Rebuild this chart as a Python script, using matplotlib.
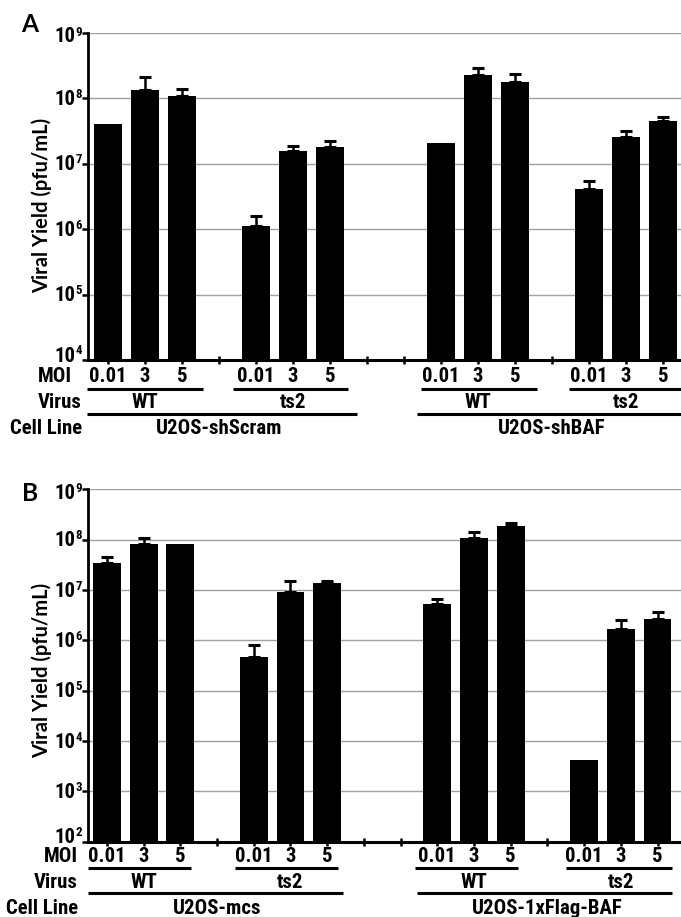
import os
import numpy as np
import matplotlib
matplotlib.use("Agg")
import matplotlib.pyplot as plt
import matplotlib.font_manager as fm
from matplotlib.font_manager import FontProperties
from matplotlib.transforms import blended_transform_factory, offset_copy
from matplotlib.lines import Line2D

# ---------------- data ----------------
moi_labels = ["0.01", "3", "5"]
virus_labels = ["WT", "ts2", "WT", "ts2"]
cell_lines_A = ["U2OS-shScram", "U2OS-shBAF"]
cell_lines_B = ["U2OS-mcs", "U2OS-1xFlag-BAF"]
positions = [0, 1, 2, 4, 5, 6, 9, 10, 11, 13, 14, 15]

yield_A = [4.1e7, 1.35e8, 1.1e8,
           1.1e6, 1.58e7, 1.8e7,
           2.07e7, 2.28e8, 1.79e8,
           4.1e6, 2.55e7, 4.59e7]
err_A = [0, 0.78e8, 0.28e8,
         0.5e6, 0.32e7, 0.44e7,
         0, 0.62e8, 0.6e8,
         1.35e6, 0.64e7, 0.63e7]

yield_B = [3.39e7, 8.3e7, 8.3e7,
           4.7e5, 9.3e6, 1.37e7,
           5.2e6, 1.08e8, 1.89e8,
           4.2e3, 1.66e6, 2.63e6]
err_B = [1.07e7, 2.7e7, 0,
         3.4e5, 5.7e6, 1.1e6,
         1.3e6, 0.37e8, 0.26e8,
         0, 0.84e6, 0.97e6]


# ---------------- fonts (pick actual bold files) ----------------
def _w(f):
    w = f.weight
    if isinstance(w, str):
        w = fm.weight_dict.get(w, 400)
    return w


def bold_file(names):
    for name in names:
        cands = [f for f in fm.fontManager.ttflist
                 if f.name == name and _w(f) >= 600 and f.style == "normal"]
        cands = [f for f in cands if "Italic" not in f.fname and "Oblique" not in f.fname]
        cands.sort(key=lambda f: (0 if "Bold" in os.path.basename(f.fname) else 1,
                                  abs(_w(f) - 700)))
        if cands:
            return cands[0].fname, name
    return None, None


NFILE, NNAME = bold_file(["Liberation Sans Narrow", "Roboto Condensed",
                          "DejaVu Sans Condensed"])
if NFILE is None:
    NFILE, NNAME = bold_file(["Liberation Sans", "DejaVu Sans"])
LFILE, LNAME = bold_file(["Lato", "Open Sans", "Liberation Sans", "DejaVu Sans"])

W, H = 681, 917
fig = plt.figure(figsize=(W / 100, H / 100), dpi=100)
renderer = fig.canvas.get_renderer()


def fit_size(fname, text, target_px):
    t = fig.text(0, 0, text, fontproperties=FontProperties(fname=fname, size=10))
    w = t.get_window_extent(renderer=renderer).width
    t.remove()
    return 10 * target_px / w


NSIZE = fit_size(NFILE, "U2OS-1xFlag-BAF", 150)
YLSIZE = fit_size(LFILE, "Viral Yield (pfu/mL)", 175)
LETSIZE = fit_size(LFILE, "A", 17)


def NP(size=None):
    return FontProperties(fname=NFILE, size=NSIZE if size is None else size)


def LP(size):
    return FontProperties(fname=LFILE, size=size)


def fy(ypix):
    return 1 - ypix / H


def make_panel(left, top, right, bottom, xlim, ylim_exp, vals, errs,
               rows, row_x, cell_names, vlines, clines, letter, letter_y, ylab_y):
    ax = fig.add_axes([left / W, 1 - bottom / H, (right - left) / W, (bottom - top) / H])
    ax.set_yscale("log")
    ax.set_ylim(10.0 ** ylim_exp[0], 10.0 ** ylim_exp[1])
    ax.set_xlim(*xlim)
    exps = list(range(ylim_exp[0], ylim_exp[1] + 1))
    decades = [10.0 ** e for e in exps]
    ax.set_yticks(decades)
    ax.set_yticklabels([])
    ax.yaxis.set_minor_locator(matplotlib.ticker.NullLocator())
    ytr = blended_transform_factory(fig.transFigure, ax.transData)
    for e in exps:
        if e == exps[0]:
            dy = 4
        elif e == exps[-1]:
            dy = -4
        else:
            dy = -1
        off = offset_copy(ytr, fig=fig, x=0, y=dy, units="dots")
        fig.text(75.5 / W, 10.0 ** e, "10", transform=off, ha="right",
                 va="center", fontproperties=NP())
        off2 = offset_copy(ytr, fig=fig, x=0, y=dy + 5, units="dots")
        fig.text(75.5 / W, 10.0 ** e, str(e), transform=off2, ha="left",
                 va="center", fontproperties=NP(NSIZE * 0.62))
    for d in decades[1:]:
        ax.axhline(d, color="#a0a0a0", lw=1.0, zorder=0.5)
    ax.bar(positions, vals, width=0.76, color="black", zorder=2,
           bottom=10.0 ** ylim_exp[0])
    e = np.array(errs, dtype=float)
    m = e > 0
    p = np.array(positions)[m]
    v = np.array(vals)[m]
    ax.errorbar(p, v, yerr=[np.zeros(m.sum()), e[m]], fmt="none", ecolor="black",
                elinewidth=1.8, capsize=4, capthick=2.2, zorder=1.5)
    for s in ["top", "right"]:
        ax.spines[s].set_visible(False)
    ax.spines["left"].set_linewidth(2.0)
    ax.spines["bottom"].set_linewidth(2.2)
    ax.spines["left"].set_zorder(3)
    ax.spines["bottom"].set_zorder(3)
    ax.set_xticks(range(0, 16))
    ax.set_xticklabels([])
    ax.tick_params(axis="x", direction="inout", length=6, width=1.8)
    ax.tick_params(axis="y", direction="out", length=4, width=1.8)

    tr = blended_transform_factory(ax.transData, fig.transFigure)
    y_moi, y_vline, y_vir, y_cline, y_cell = rows
    for i, k in enumerate(positions):
        ax.text(k, fy(y_moi), moi_labels[i % 3], transform=tr, ha="center",
                va="center", clip_on=False, fontproperties=NP())
    groups = [positions[0:3], positions[3:6], positions[6:9], positions[9:12]]
    for g, (x0, x1), lab in zip(groups, vlines, virus_labels):
        ax.add_line(Line2D([x0, x1], [fy(y_vline)] * 2, transform=tr, color="black",
                           lw=2.2, clip_on=False, solid_capstyle="butt"))
        ax.text(np.mean(g), fy(y_vir), lab, transform=tr, ha="center", va="center",
                clip_on=False, fontproperties=NP())
    for (x0, x1), lab, c in zip(clines, cell_names, [3, 12]):
        ax.add_line(Line2D([x0, x1], [fy(y_cline)] * 2, transform=tr, color="black",
                           lw=2.2, clip_on=False, solid_capstyle="butt"))
        ax.text(c, fy(y_cell), lab, transform=tr, ha="center", va="center",
                clip_on=False, fontproperties=NP())
    for (yy, rx, t) in [(y_moi, row_x[0], "MOI"), (y_vir, row_x[1], "Virus"),
                        (y_cell, row_x[2], "Cell Line")]:
        fig.text(rx / W, fy(yy), t, ha="right", va="center", fontproperties=NP())
    fig.text(42 / W, fy(ylab_y), "Viral Yield (pfu/mL)", rotation=90,
             ha="center", va="center", fontproperties=LP(YLSIZE))
    fig.text(30 / W, fy(letter_y), letter, ha="center", va="center",
             fontproperties=LP(LETSIZE))
    return ax


make_panel(88, 33, 681, 360, (-0.54, 15.49), (4, 9), yield_A, err_A,
           (377, 389, 402, 414, 428), (72, 82, 82), cell_lines_A,
           [(-0.57, 2.57), (3.38, 6.5), (8.45, 11.6), (12.45, 15.6)],
           [(-0.57, 6.73), (8.35, 15.6)], "A", 25, 205)

make_panel(87.5, 489.3, 681, 841.8, (-0.53, 15.64), (2, 9), yield_B, err_B,
           (857, 868, 883, 893, 909), (78, 78, 78), cell_lines_B,
           [(-0.52, 2.3), (3.49, 6.3), (8.4, 11.2), (12.5, 15.4)],
           [(-0.52, 6.43), (8.45, 15.4)], "B", 494, 670)

fig.savefig("out.png", dpi=100)
